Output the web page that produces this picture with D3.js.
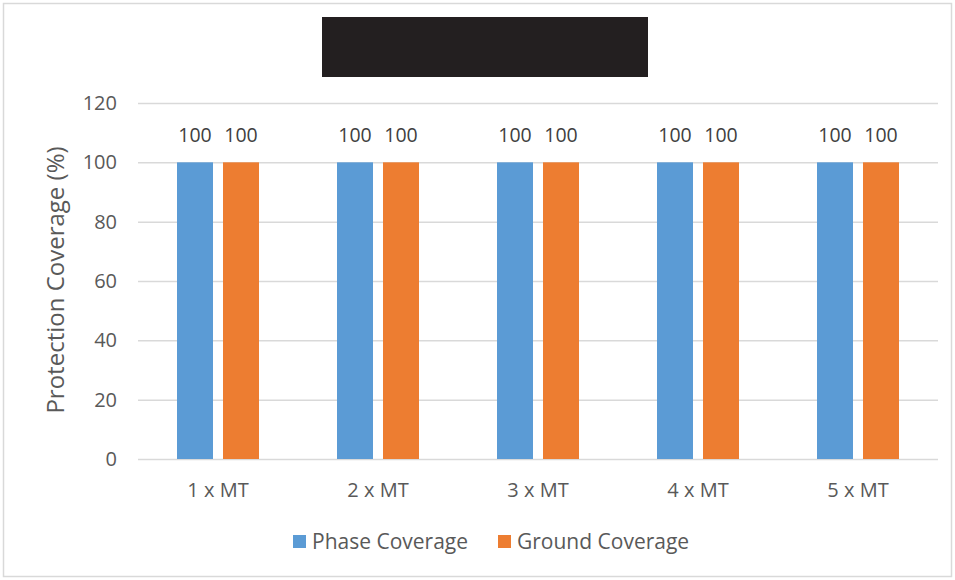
<!DOCTYPE html>
<html><head><meta charset="utf-8">
<script src="https://cdn.jsdelivr.net/npm/d3@7"></script>
<style>body{margin:0;background:#fff}svg{display:block}text{font-family:"Open Sans",sans-serif}</style>
</head><body>
<script>
const categories = ["1 x MT","2 x MT","3 x MT","4 x MT","5 x MT"];
const seriesNames = ["Phase Coverage","Ground Coverage"];
const phaseCoverage = [100,100,100,100,100];
const groundCoverage = [100,100,100,100,100];
const yTicks = [0,20,40,60,80,100,120];
const colors = ["#5B9BD5","#ED7D31"];
const seriesValues = [phaseCoverage, groundCoverage];

(function(){
const W=955,H=580;
const svg=d3.select("body").append("svg").attr("width",W).attr("height",H);
svg.append("rect").attr("x",3.5).attr("y",3.5).attr("width",W-7).attr("height",H-7)
  .attr("fill","#fff").attr("stroke","#D9D9D9").attr("stroke-width",1.5);
svg.append("rect").attr("x",322).attr("y",17).attr("width",326).attr("height",60).attr("fill","#231F20");

const mLeft=138,mRight=938,mTop=103,mBottom=459;
const x0=d3.scaleBand().domain(categories).range([mLeft,mRight]).paddingInner(78/160).paddingOuter(39/160);
const x1=d3.scaleBand().domain(seriesNames).range([0,x0.bandwidth()]).paddingInner(10/46).paddingOuter(0);
const y=d3.scaleLinear().domain([0,120]).range([mBottom,mTop]);

const grid=svg.append("g");
grid.selectAll("line").data(yTicks).join("line")
  .attr("x1",mLeft).attr("x2",mRight).attr("y1",d=>y(d)+0.5).attr("y2",d=>y(d)+0.5)
  .attr("stroke","#D9D9D9").attr("stroke-width",1.5);

const yAxis=d3.axisLeft(y).tickValues(yTicks).tickSize(0).tickPadding(21);
const ga=svg.append("g").attr("transform",`translate(${mLeft},0)`).call(yAxis);
ga.select(".domain").remove();
ga.selectAll("text").attr("font-size",20).attr("fill","#595959").attr("font-family","Open Sans");

const xAxis=d3.axisBottom(x0).tickSize(0).tickPadding(24);
const gx=svg.append("g").attr("transform",`translate(0,${mBottom})`).call(xAxis);
gx.select(".domain").remove();
gx.selectAll("text").attr("font-size",20).attr("fill","#595959").attr("font-family","Open Sans");

const groups=svg.append("g").selectAll("g").data(categories).join("g")
  .attr("transform",d=>`translate(${x0(d)},0)`);
seriesNames.forEach((s,si)=>{
  groups.append("rect").attr("x",x1(s)).attr("width",x1.bandwidth())
    .attr("y",(d,i)=>y(seriesValues[si][i])).attr("height",(d,i)=>mBottom-y(seriesValues[si][i]))
    .attr("fill",colors[si]);
  groups.append("text").attr("x",x1(s)+x1.bandwidth()/2).attr("y",(d,i)=>y(seriesValues[si][i])-20)
    .attr("text-anchor","middle").attr("font-size",19.5).attr("fill","#404040")
    .text((d,i)=>seriesValues[si][i]);
});

svg.append("text").attr("transform","translate(64,280) rotate(-90)").attr("text-anchor","middle")
  .attr("font-size",24).attr("fill","#595959").text("Protection Coverage (%)");

const legX=[293,498];
seriesNames.forEach((s,i)=>{
  svg.append("rect").attr("x",legX[i]).attr("y",535).attr("width",13).attr("height",13).attr("fill",colors[i]);
  svg.append("text").attr("x",legX[i]+19).attr("y",549).attr("font-size",21).attr("fill","#595959").text(s);
});
})();
</script>
</body></html>
